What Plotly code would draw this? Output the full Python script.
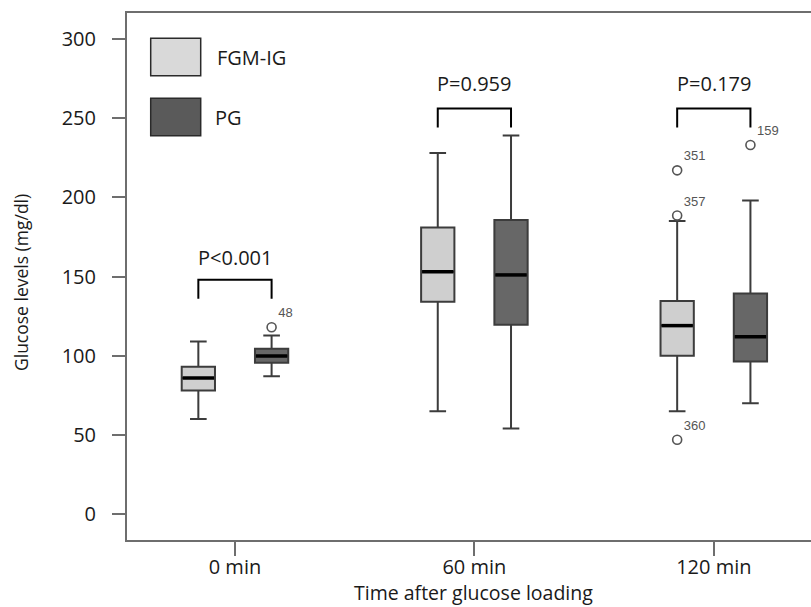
import plotly.graph_objects as go

categories = ["0 min", "60 min", "120 min"]
groups = ["FGM-IG", "PG"]

# box statistics (mg/dl)
fgm_lower = [60, 65, 65]
fgm_q1 = [78, 134, 100]
fgm_med = [86, 153, 119]
fgm_q3 = [93, 181, 134.5]
fgm_upper = [109, 228, 185]

pg_lower = [87, 54, 70]
pg_q1 = [95.6, 119.6, 96.4]
pg_med = [99.8, 151, 112]
pg_q3 = [104.4, 185.6, 139.2]
pg_upper = [112.7, 239, 198]

# outliers: (category index, value, label)
fgm_out_cat = [2, 2, 2]
fgm_out_val = [217, 188.5, 47]
fgm_out_lab = ["351", "357", "360"]
pg_out_cat = [0, 2]
pg_out_val = [118, 233]
pg_out_lab = ["48", "159"]

# significance brackets
p_labels = ["P<0.001", "P=0.959", "P=0.179"]
bracket_top = [148, 256, 256]
bracket_leg = [136, 244, 244]
p_text_y = [162, 272, 272]

OFF = 0.153
W = 0.139
FONT = "Open Sans"
fgm_fill = "#cfcfcf"
pg_fill = "#676767"
edge = "#3c3c3c"

fig = go.Figure()
idx = list(range(len(categories)))

for name, lo, q1, md, q3, up, fill, sgn in [
    ("FGM-IG", fgm_lower, fgm_q1, fgm_med, fgm_q3, fgm_upper, fgm_fill, -1),
    ("PG", pg_lower, pg_q1, pg_med, pg_q3, pg_upper, pg_fill, 1),
]:
    xs = [i + sgn * OFF for i in idx]
    fig.add_trace(go.Box(
        x=xs, q1=q1, median=md, q3=q3, lowerfence=lo, upperfence=up,
        width=W, whiskerwidth=0.5, fillcolor=fill,
        line=dict(color=edge, width=2), boxpoints=False,
        name=name, showlegend=False, hoverinfo="skip",
    ))
    # bold black median lines
    for x, m in zip(xs, md):
        fig.add_trace(go.Scatter(
            x=[x - W / 2 + 0.004, x + W / 2 - 0.004], y=[m, m], mode="lines",
            line=dict(color="black", width=3.5), showlegend=False, hoverinfo="skip",
        ))

for cats, vals, labs, sgn in [
    (fgm_out_cat, fgm_out_val, fgm_out_lab, -1),
    (pg_out_cat, pg_out_val, pg_out_lab, 1),
]:
    fig.add_trace(go.Scatter(
        x=[c + sgn * OFF for c in cats], y=vals, text=labs,
        mode="markers+text", textposition="top right",
        marker=dict(symbol="circle-open", size=9, color="#555555", line=dict(width=1.6)),
        textfont=dict(family="Liberation Sans", size=13, color="#555555"),
        showlegend=False, hoverinfo="skip",
    ))

for i, (lab, top, leg, ty) in enumerate(zip(p_labels, bracket_top, bracket_leg, p_text_y)):
    fig.add_trace(go.Scatter(
        x=[i - OFF, i - OFF, i + OFF, i + OFF], y=[leg, top, top, leg],
        mode="lines", line=dict(color="black", width=2),
        showlegend=False, hoverinfo="skip",
    ))
    fig.add_annotation(x=i, y=ty, text=lab, showarrow=False,
                       font=dict(family=FONT, size=20, color="#1a1a1a"))

# legend swatches (paper coords)
L, R, T, B = 127, 811, 13, 540
PW, PH = R - L, B - T
def px(x):
    return (x - L) / PW
def py(y):
    return 1 - (y - T) / PH

for (y0, y1, fill, lab, tx) in [(38.3, 75.7, "#d9d9d9", groups[0], 215), (98.3, 135.7, "#5a5a5a", groups[1], 213)]:
    fig.add_shape(type="rect", xref="paper", yref="paper",
                  x0=px(150.7), x1=px(200.7), y0=py(y1), y1=py(y0),
                  fillcolor=fill, line=dict(color="#2a2a2a", width=1.5))
    fig.add_annotation(xref="paper", yref="paper", x=px(tx), y=py((y0 + y1) / 2),
                       text=lab, showarrow=False, xanchor="left", yanchor="middle",
                       font=dict(family=FONT, size=20, color="#1a1a1a"))

fig.add_annotation(xref="paper", yref="paper", x=px(21), y=py(283), text="Glucose levels (mg/dl)",
                   textangle=-90, showarrow=False, xanchor="center", yanchor="middle",
                   font=dict(family=FONT, size=17.5, color="#1a1a1a"))
fig.add_annotation(xref="paper", yref="paper", x=px(473), y=py(592), text="Time after glucose loading",
                   showarrow=False, xanchor="center", yanchor="middle",
                   font=dict(family=FONT, size=19.5, color="#1a1a1a"))

axis_col = "#6e6e6e"
fig.update_layout(
    width=811, height=607,
    margin=dict(l=L, r=811 - R, t=T, b=607 - B),
    plot_bgcolor="white", paper_bgcolor="white",
    showlegend=False,
    xaxis=dict(range=[-0.451, 2.406], tickvals=idx, ticktext=categories,
               showgrid=False, zeroline=False, showline=True, mirror=True,
               linecolor=axis_col, linewidth=2, ticks="outside", ticklen=14,
               tickwidth=2, tickcolor=axis_col, ticklabelstandoff=-6,
               tickfont=dict(family=FONT, size=20, color="#1a1a1a")),
    yaxis=dict(range=[-16.3, 316.3], tickvals=[0, 50, 100, 150, 200, 250, 300],
               showgrid=False, zeroline=False, showline=True,
               linecolor=axis_col, linewidth=2, ticks="outside", ticklen=13,
               tickwidth=2, tickcolor=axis_col, ticklabelstandoff=12,
               tickfont=dict(family=FONT, size=20, color="#1a1a1a")),
)

fig.write_html("out.html")
